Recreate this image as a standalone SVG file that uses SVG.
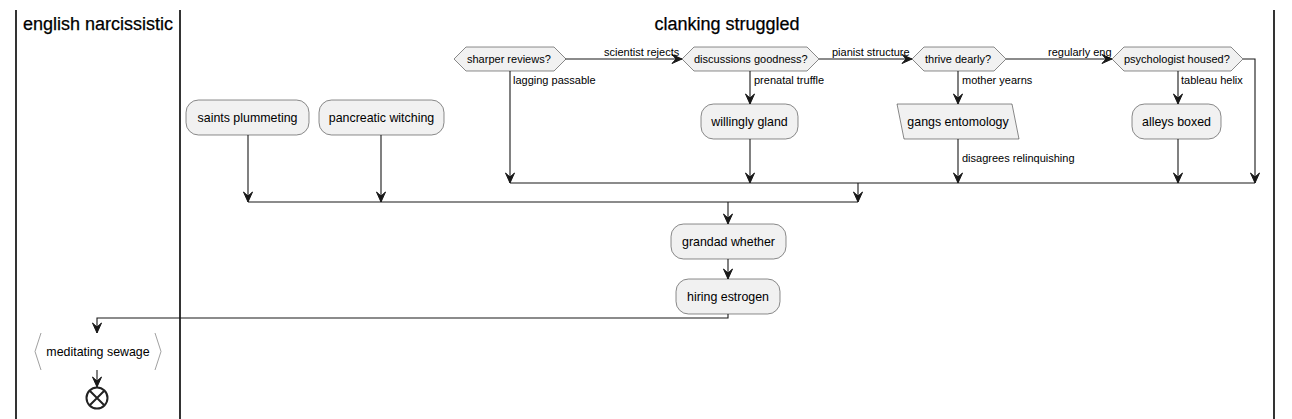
<svg xmlns="http://www.w3.org/2000/svg" width="1292" height="419" viewBox="0 0 1292 419">
<defs>
<style>
.lane{stroke:#000;stroke-width:1.6;fill:none}
.title{font-family:"Liberation Sans",Arial,sans-serif;font-size:18px;fill:#000;stroke:#000;stroke-width:0.25}
.box{fill:#F1F1F1;stroke:#181818;stroke-width:0.5}
.t{font-family:"Liberation Sans",Arial,sans-serif;font-size:12.4px;fill:#000;text-anchor:middle}
.d{font-family:"Liberation Sans",Arial,sans-serif;font-size:11px;fill:#000}
.lbl{font-family:"Liberation Sans",Arial,sans-serif;font-size:11px;fill:#000}
.ln{stroke:#181818;stroke-width:1.1;fill:none}
.ah{fill:#181818;stroke:#181818;stroke-width:1}
.brk{stroke:#888;stroke-width:0.8;fill:none}
</style>
</defs>
<rect width="1292" height="419" fill="#fff"/>
<g id="lanes">
<line class="lane" x1="16" y1="10" x2="16" y2="419"/>
<line class="lane" x1="180" y1="10" x2="180" y2="419"/>
<line class="lane" x1="1274" y1="10" x2="1274" y2="419"/>
<text class="title" x="98" y="30" text-anchor="middle">english narcissistic</text>
<text class="title" x="727" y="30" text-anchor="middle">clanking struggled</text>
</g>
<g id="connectors">
<path class="ln" d="M565,59 H682"/>
<polygon class="ah" points="682,59 672,54.5 676,59 672,63.5"/>
<text class="lbl" x="604" y="56">scientist rejects</text>
<path class="ln" d="M819,59 H912"/>
<polygon class="ah" points="912,59 902,54.5 906,59 902,63.5"/>
<text class="lbl" x="832" y="56">pianist structure</text>
<path class="ln" d="M1006,59 H1112"/>
<polygon class="ah" points="1112,59 1102,54.5 1106,59 1102,63.5"/>
<text class="lbl" x="1048" y="56">regularly eng</text>
<path class="ln" d="M510,71 V183"/>
<polygon class="ah" points="510,183 505.5,173 510,177 514.5,173"/>
<text class="lbl" x="513" y="84">lagging passable</text>
<path class="ln" d="M750,71 V104"/>
<polygon class="ah" points="750,104 745.5,94 750,98 754.5,94"/>
<text class="lbl" x="754" y="84">prenatal truffle</text>
<path class="ln" d="M750,139 V183"/>
<polygon class="ah" points="750,183 745.5,173 750,177 754.5,173"/>
<path class="ln" d="M958,71 V104"/>
<polygon class="ah" points="958,104 953.5,94 958,98 962.5,94"/>
<text class="lbl" x="962" y="84">mother yearns</text>
<path class="ln" d="M958,139 V183"/>
<polygon class="ah" points="958,183 953.5,173 958,177 962.5,173"/>
<text class="lbl" x="962" y="162">disagrees relinquishing</text>
<path class="ln" d="M1178,71 V104"/>
<polygon class="ah" points="1178,104 1173.5,94 1178,98 1182.5,94"/>
<text class="lbl" x="1181" y="84">tableau helix</text>
<path class="ln" d="M1178,139 V183"/>
<polygon class="ah" points="1178,183 1173.5,173 1178,177 1182.5,173"/>
<path class="ln" d="M1243,59 H1255 V183"/>
<polygon class="ah" points="1255,183 1250.5,173 1255,177 1259.5,173"/>
<path class="ln" d="M510,183 H1255"/>
<path class="ln" d="M858,183 V202"/>
<polygon class="ah" points="858,202 853.5,192 858,196 862.5,192"/>
<path class="ln" d="M248,135 V202"/>
<polygon class="ah" points="248,202 243.5,192 248,196 252.5,192"/>
<path class="ln" d="M381,135 V202"/>
<polygon class="ah" points="381,202 376.5,192 381,196 385.5,192"/>
<path class="ln" d="M248,202 H858" stroke-width="1.5"/>
<path class="ln" d="M728,202 V224"/>
<polygon class="ah" points="728,224 723.5,214 728,218 732.5,214"/>
<path class="ln" d="M728,259 V279"/>
<polygon class="ah" points="728,279 723.5,269 728,273 732.5,269"/>
<path class="ln" d="M728,314 V318 H97 V333"/>
<polygon class="ah" points="97,333 92.5,323 97,327 101.5,323"/>
<path class="ln" d="M97,370 V387"/>
<polygon class="ah" points="97,387 92.5,377 97,381 101.5,377"/>
</g>
<g id="d1">
<polygon class="box" points="454,59 466,47 554,47 566,59 554,71 466,71"/>
<text class="d" x="467" y="63">sharper reviews?</text>
</g>
<g id="d2">
<polygon class="box" points="682,59 694,47 807,47 819,59 807,71 694,71"/>
<text class="d" x="694" y="63">discussions goodness?</text>
</g>
<g id="d3">
<polygon class="box" points="912,59 924,47 994,47 1006,59 994,71 924,71"/>
<text class="d" x="925" y="63">thrive dearly?</text>
</g>
<g id="d4">
<polygon class="box" points="1112,59 1124,47 1231,47 1243,59 1231,71 1124,71"/>
<text class="d" x="1124" y="63">psychologist housed?</text>
</g>
<g id="saints">
<rect class="box" x="186" y="100" width="123" height="35" rx="12.5"/>
<text class="t" x="247.5" y="122">saints plummeting</text>
</g>
<g id="pancreatic">
<rect class="box" x="319" y="100" width="125" height="35" rx="12.5"/>
<text class="t" x="381.5" y="122">pancreatic witching</text>
</g>
<g id="willingly">
<rect class="box" x="701" y="104" width="97" height="35" rx="12.5"/>
<text class="t" x="749.5" y="126">willingly gland</text>
</g>
<g id="gangs">
<polygon class="box" points="897,104 1012,104 1019,139 904,139"/>
<text class="t" x="958" y="126">gangs entomology</text>
</g>
<g id="alleys">
<rect class="box" x="1132" y="104" width="89" height="35" rx="12.5"/>
<text class="t" x="1176.5" y="126">alleys boxed</text>
</g>
<g id="grandad">
<rect class="box" x="671" y="224" width="115" height="35" rx="12.5"/>
<text class="t" x="728.5" y="246">grandad whether</text>
</g>
<g id="hiring">
<rect class="box" x="676" y="279" width="104" height="35" rx="12.5"/>
<text class="t" x="728" y="301">hiring estrogen</text>
</g>
<g id="meditating">
<polygon points="41,333 155,333 161,351.5 155,370 41,370 35,351.5" fill="#fff" stroke="none"/>
<polyline class="brk" points="41,333 35,351.5 41,370"/>
<polyline class="brk" points="155,333 161,351.5 155,370"/>
<text class="t" x="98" y="356">meditating sewage</text>
</g>
<g id="end">
<circle cx="97" cy="398" r="10.5" fill="#fff" stroke="#222" stroke-width="2"/>
<path d="M90,391 L104,405 M104,391 L90,405" stroke="#222" stroke-width="2"/>
</g>
</svg>
